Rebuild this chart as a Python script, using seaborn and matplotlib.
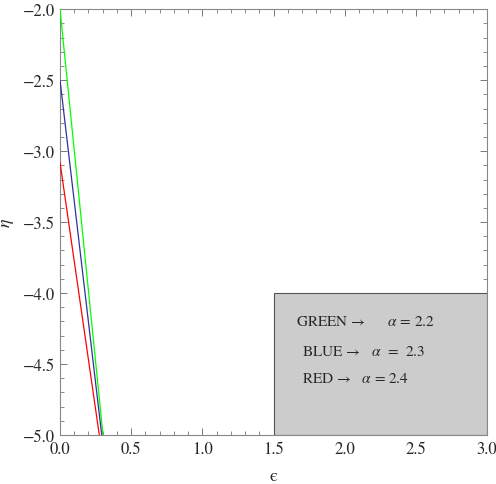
import numpy as np
import pandas as pd
import matplotlib
matplotlib.use("Agg")
import matplotlib.pyplot as plt
import seaborn as sns
from matplotlib.patches import Rectangle
from matplotlib.ticker import MultipleLocator, FuncFormatter

# line end points (eps, eta)
series = ["GREEN", "BLUE", "RED"]
alphas = ["2.2", "2.3", "2.4"]
eps_start = [0.0, 0.0, 0.0]
eps_end = [0.302, 0.293, 0.276]
eta_start = [-2.0, -2.5, -3.08]
eta_end = [-5.0, -5.0, -5.0]
colors = {"GREEN": "#00ff00", "BLUE": "#3030a0", "RED": "#ff0000"}

rows = []
for s, x0, x1, y0, y1 in zip(series, eps_start, eps_end, eta_start, eta_end):
    rows.append({"series": s, "eps": x0, "eta": y0})
    rows.append({"series": s, "eps": x1, "eta": y1})
df = pd.DataFrame(rows)

sns.set_style("ticks")
plt.rcParams["font.family"] = ["STIXGeneral", "DejaVu Serif"]
plt.rcParams["mathtext.fontset"] = "stix"

fig = plt.figure(figsize=(4.96, 4.85), dpi=100)
ax = fig.add_axes([0.121, 0.101, 0.861, 0.878])

sns.lineplot(data=df, x="eps", y="eta", hue="series", palette=colors,
             legend=False, linewidth=0.9, ax=ax, zorder=3)

ax.set_xlim(0, 3)
ax.set_ylim(-5, -2)

# grey key box in the lower right
ax.add_patch(Rectangle((1.5, -5), 1.5, 1.0, facecolor="#cccccc",
                       edgecolor="#555555", linewidth=0.8, zorder=2))
ax.text(1.66, -4.2, "GREEN \u2192      $\\alpha$ = " + alphas[0], fontsize=11, va="center", zorder=4)
ax.text(1.70, -4.41, "BLUE \u2192   $\\alpha$  =  " + alphas[1], fontsize=11, va="center", zorder=4)
ax.text(1.70, -4.60, "RED \u2192   $\\alpha$ = " + alphas[2], fontsize=11, va="center", zorder=4)

fmt = FuncFormatter(lambda v, p: f"{v:.1f}".replace("-", "\u2212"))
ax.xaxis.set_major_locator(MultipleLocator(0.5))
ax.xaxis.set_minor_locator(MultipleLocator(0.1))
ax.yaxis.set_major_locator(MultipleLocator(0.5))
ax.yaxis.set_minor_locator(MultipleLocator(0.1))
ax.xaxis.set_major_formatter(fmt)
ax.yaxis.set_major_formatter(fmt)

ax.tick_params(which="both", direction="in", top=True, right=True,
               color="#777777", labelsize=12)
ax.tick_params(which="major", length=5, width=0.7)
ax.tick_params(which="minor", length=3, width=0.6)
ax.tick_params(axis="x", which="major", pad=4)
for sp in ax.spines.values():
    sp.set_color("#888888")
    sp.set_linewidth(0.8)

ax.set_xlabel("\u03f5", fontsize=13)
ax.set_ylabel(r"$\eta$", fontsize=13, rotation=90)
ax.xaxis.set_label_coords(0.5, -0.078)
ax.yaxis.set_label_coords(-0.103, 0.5)

fig.savefig("out.png", dpi=100)
